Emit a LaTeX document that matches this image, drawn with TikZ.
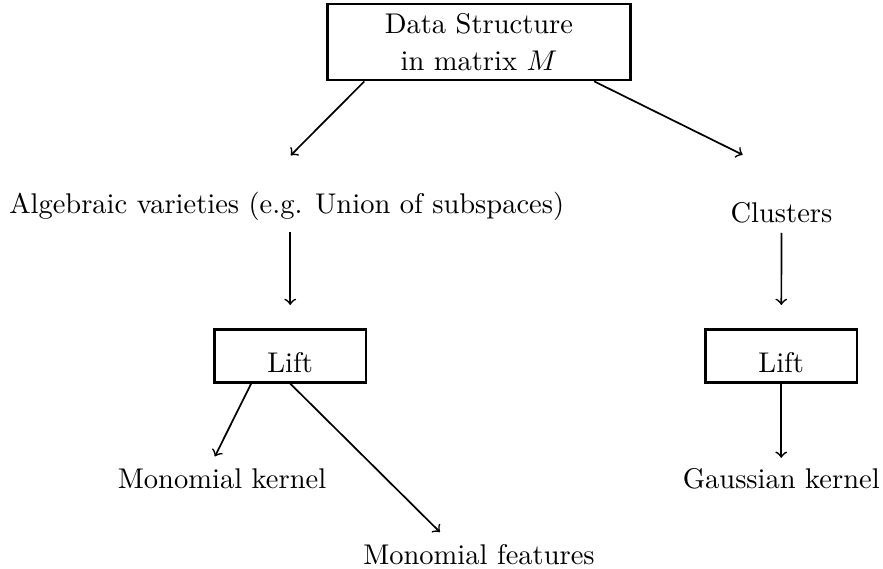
\documentclass[tikz,border=0pt]{standalone}
\usepackage{amsmath}
\usepackage{amssymb}
\usetikzlibrary{arrows.meta,positioning}

\begin{document}
\begin{tikzpicture}[
    > = to, % arrow head style
    auto,
    semithick % line style
    ]

    \tikzset{
    box/.style = {
    draw = black,
    thick,
    rectangle,
    inner sep = 3.33pt
    },
    liftbox/.style = {
    box,
    minimum width = 53.2pt,
    text height = 11.8pt
    },
    txt/.style = {
    inner sep = 3.33pt,
    anchor = base
    }
    }

    \useasboundingbox (0,0) rectangle (10.89,-7.017);

    \node[box, text width = 3.5cm, align = center] (ds) at (5.907,-0.518) {Data Structure\\[1pt] in matrix $M$};
    \node[txt] (alg) at (3.536,-2.627) {Algebraic varieties (e.g. Union of subspaces)};
    \node[txt] (clu) at (9.638,-2.738) {Clusters};
    \node[liftbox] (liftA) at (3.579,-4.390) {Lift};
    \node[liftbox] (liftB) at (9.635,-4.390) {Lift};
    \node[txt] (monK) at (2.738,-6.022) {Monomial kernel};
    \node[txt] (monF) at (5.907,-6.962) {Monomial features};
    \node[txt] (gau) at (9.635,-6.022) {Gaussian kernel};

    \path[->] ([xshift=13.3pt]ds.south west) edge ([xshift=1.4pt, yshift=9.1pt]alg.north);
    \path[->] ([xshift=-13.1pt]ds.south east) edge ([xshift=-13.6pt, yshift=12.9pt]clu.north);
    \path[->] ([yshift=-0.7pt]alg.south -| liftA.north) edge[shorten >=8.2pt] (liftA.north);
    \path[->] (clu) edge[shorten >=8.2pt] (liftB);
    \path[->] ([xshift=13.3pt]liftA.south west) edge ([xshift=-2.5pt, yshift=0.6pt]monK.north);
    \path[->] (liftA.south) edge ([xshift=-13.7pt, yshift=0.7pt]monF.north);
    \path[->] (liftB) edge (gau);
\end{tikzpicture}
\end{document}
